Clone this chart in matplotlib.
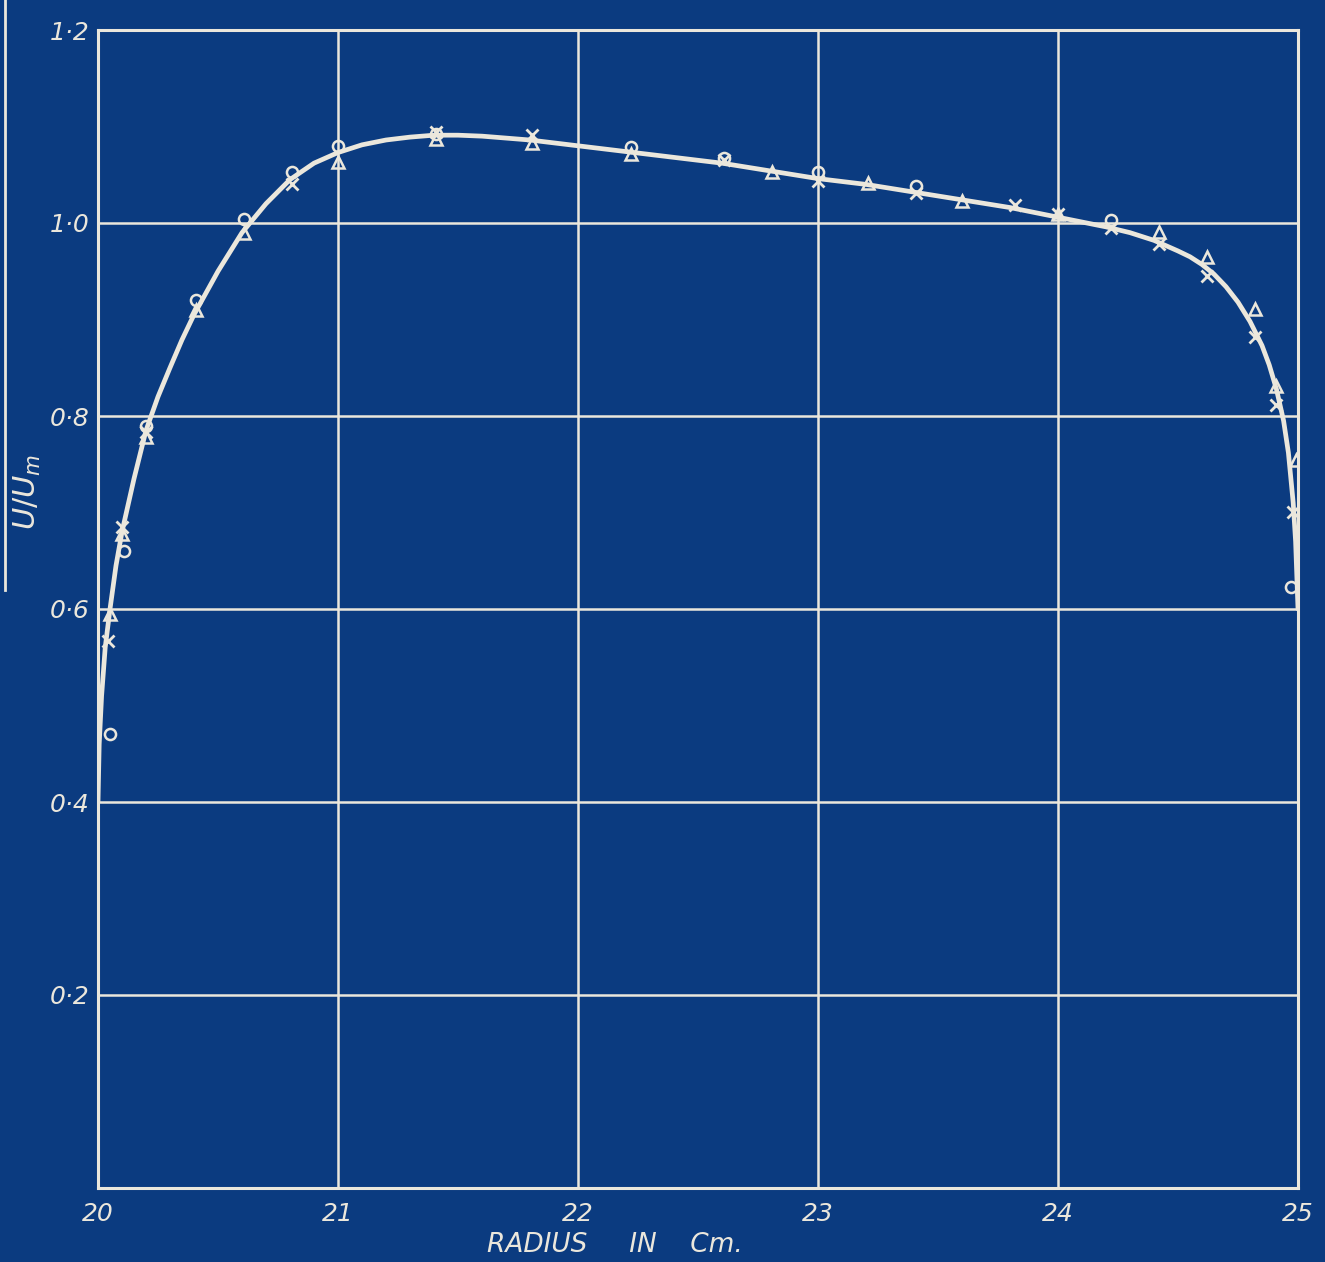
import matplotlib
matplotlib.use("Agg")
import matplotlib.pyplot as plt
from matplotlib.lines import Line2D

# ---- data ----
circle_x = [20.05, 20.11, 20.2, 20.41, 20.61, 20.81, 21.0, 21.41, 22.22, 22.61, 23.0, 23.41, 24.22, 24.97]
circle_y = [0.47, 0.66, 0.79, 0.92, 1.004, 1.053, 1.08, 1.092, 1.079, 1.067, 1.053, 1.038, 1.003, 0.623]

cross_x = [20.04, 20.1, 20.2, 20.81, 21.41, 21.81, 22.61, 23.0, 23.41, 23.82, 24.0, 24.22, 24.42, 24.62, 24.82, 24.91, 24.98]
cross_y = [0.567, 0.685, 0.783, 1.04, 1.094, 1.091, 1.065, 1.044, 1.031, 1.019, 1.009, 0.995, 0.978, 0.945, 0.882, 0.811, 0.701]

tri_x = [20.05, 20.1, 20.2, 20.41, 20.61, 21.0, 21.41, 21.81, 22.22, 22.81, 23.21, 23.6, 24.0, 24.42, 24.62, 24.82, 24.91, 24.99]
tri_y = [0.595, 0.678, 0.778, 0.91, 0.99, 1.063, 1.087, 1.083, 1.072, 1.053, 1.041, 1.023, 1.009, 0.991, 0.965, 0.911, 0.831, 0.754]

curve_x = [20.0, 20.005, 20.015, 20.03, 20.05, 20.075, 20.1, 20.15, 20.2, 20.25, 20.3, 20.35,
           20.4, 20.5, 20.6, 20.7, 20.8, 20.9, 21.0, 21.1, 21.2, 21.3, 21.4, 21.5, 21.6,
           21.8, 22.0, 22.2, 22.4, 22.6, 22.8, 23.0, 23.2, 23.4, 23.6, 23.8, 24.0, 24.2,
           24.3, 24.4, 24.5, 24.55, 24.6, 24.65, 24.7, 24.75, 24.8, 24.85, 24.88, 24.91,
           24.94, 24.96, 24.98, 24.99, 25.0]
curve_y = [0.40, 0.46, 0.51, 0.56, 0.60, 0.645, 0.68, 0.735, 0.785, 0.82, 0.85, 0.879,
           0.905, 0.95, 0.99, 1.02, 1.045, 1.062, 1.073, 1.081, 1.086, 1.089, 1.091, 1.091, 1.09,
           1.086, 1.08, 1.074, 1.068, 1.062, 1.054, 1.046, 1.04, 1.032, 1.024, 1.016, 1.006, 0.996,
           0.99, 0.982, 0.971, 0.965, 0.957, 0.947, 0.934, 0.918, 0.898, 0.873, 0.853, 0.828,
           0.795, 0.762, 0.71, 0.67, 0.60]

x_ticks = [20, 21, 22, 23, 24, 25]
x_labels = ["20", "21", "22", "23", "24", "25"]
y_ticks = [0.2, 0.4, 0.6, 0.8, 1.0, 1.2]
y_labels = ["0·2", "0·4", "0·6", "0·8", "1·0", "1·2"]

BLUE = "#0b3b80"
INK = "#ebe7dc"

W, H = 1325, 1262
fig = plt.figure(figsize=(W / 100, H / 100), dpi=100, facecolor=BLUE)
ax = fig.add_axes([98 / W, 1 - 1188 / H, 1200 / W, (1188 - 30) / H])
ax.set_facecolor(BLUE)

ax.set_xlim(20, 25)
ax.set_ylim(0, 1.2)
ax.set_xticks(x_ticks)
ax.set_xticklabels(x_labels)
ax.set_yticks(y_ticks)
ax.set_yticklabels(y_labels)
ax.grid(True, color=INK, linewidth=1.8)
ax.set_axisbelow(True)
for s in ax.spines.values():
    s.set_color(INK)
    s.set_linewidth(2.2)

ax.tick_params(axis="both", length=0, colors=INK, labelsize=18)
ax.tick_params(axis="x", pad=10)
ax.tick_params(axis="y", pad=6)
for lab in ax.get_xticklabels() + ax.get_yticklabels():
    lab.set_fontstyle("italic")
    lab.set_fontweight("medium")

ax.plot(curve_x, curve_y, color=INK, linewidth=3.4, solid_capstyle="round",
        solid_joinstyle="round", zorder=3)
ax.plot(circle_x, circle_y, linestyle="none", marker="o", markersize=8,
        markerfacecolor="none", markeredgecolor=INK, markeredgewidth=1.8, zorder=4)
ax.plot(cross_x, cross_y, linestyle="none", marker="x", markersize=8,
        markeredgecolor=INK, markeredgewidth=2.0, zorder=4)
ax.plot(tri_x, tri_y, linestyle="none", marker="^", markersize=9,
        markerfacecolor="none", markeredgecolor=INK, markeredgewidth=1.8, zorder=4)

fig.text(615 / W, 1 - 1245 / H, "RADIUS     IN    Cm.", color=INK, fontsize=19,
         family="DejaVu Sans", style="italic", ha="center", va="center")
fig.text(27 / W, 1 - 492 / H, r"$U/U_m$", color=INK, fontsize=22, rotation=90,
         ha="center", va="center")

# paper edge line at the far left
fig.add_artist(Line2D([5 / W, 5 / W], [1.0, 1 - 590 / H], transform=fig.transFigure,
                      color=INK, linewidth=2.0))

fig.savefig("out.png", dpi=100, facecolor=BLUE)
